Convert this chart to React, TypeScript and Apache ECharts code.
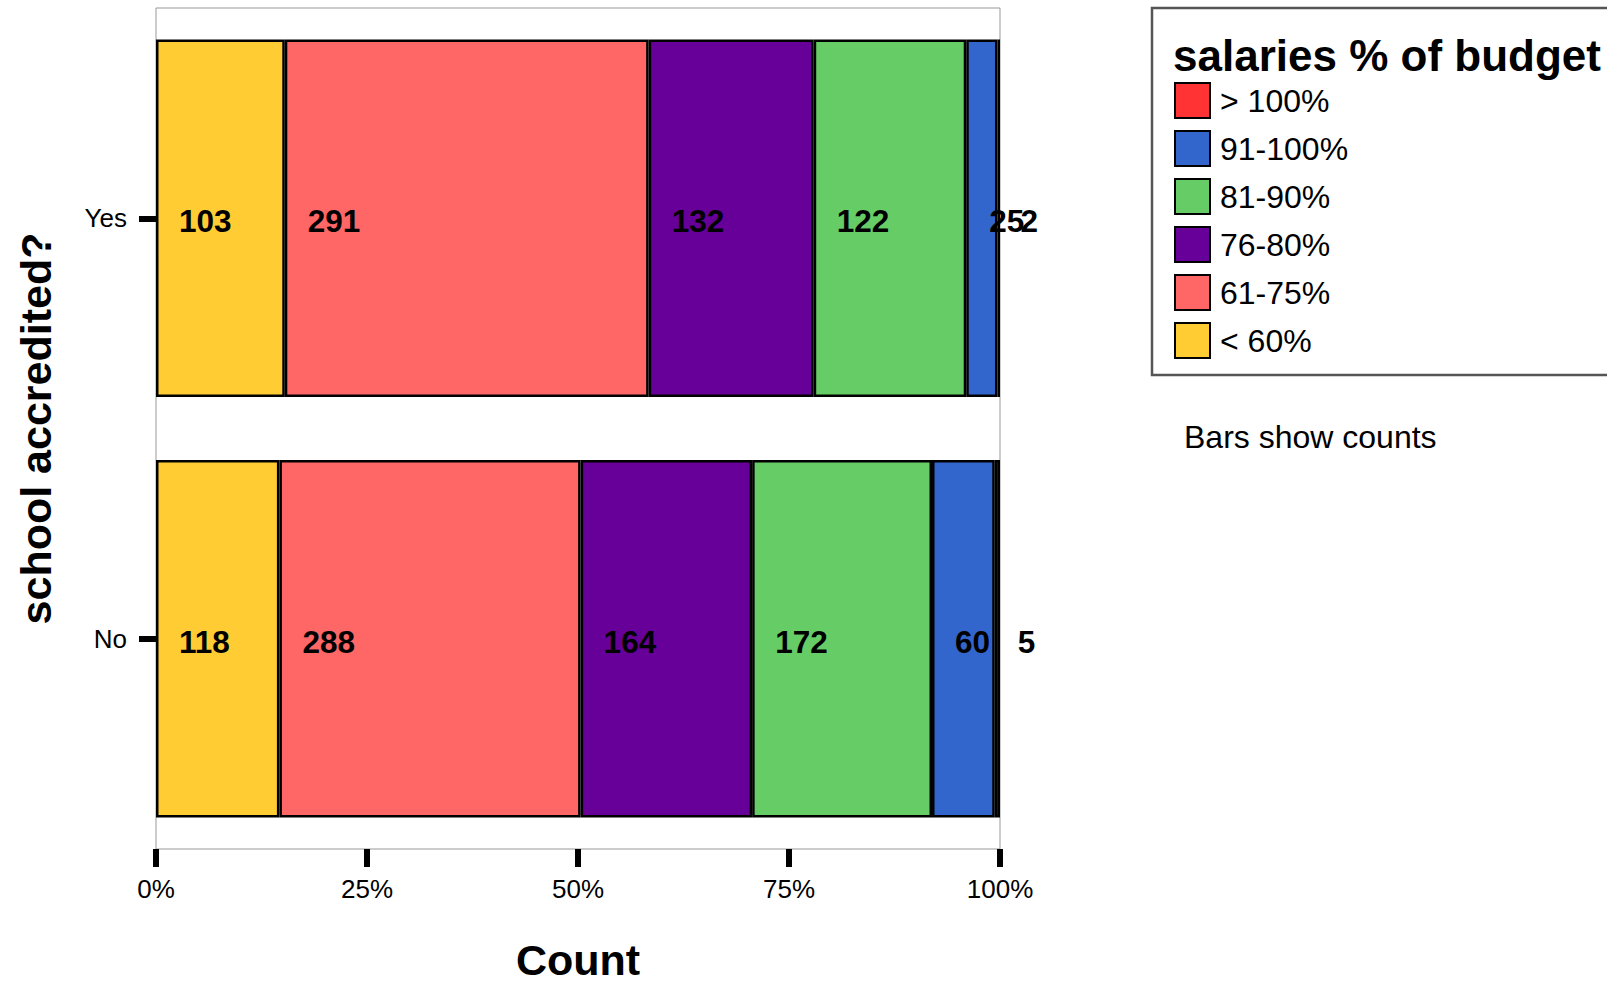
import React, { useEffect, useRef } from "react";
import * as echarts from "echarts";

const categories = ["Yes", "No"];
const seriesNames = ["< 60%", "61-75%", "76-80%", "81-90%", "91-100%", "> 100%"];
const seriesColors = ["#FFCC33", "#FF6666", "#660099", "#66CC66", "#3366CC", "#FF3333"];
// counts per series, [Yes, No]
const countsLt60 = [103, 118];
const counts61to75 = [291, 288];
const counts76to80 = [132, 164];
const counts81to90 = [122, 172];
const counts91to100 = [25, 60];
const countsGt100 = [2, 5];
const xTicks = [0, 25, 50, 75, 100];

const allCounts = [countsLt60, counts61to75, counts76to80, counts81to90, counts91to100, countsGt100];

const FONT = "'Liberation Sans', Arial, Helvetica, sans-serif";

export default function App() {
  const ref = useRef<HTMLDivElement>(null);

  useEffect(() => {
    if (!ref.current) return;
    const chart = echarts.init(ref.current, undefined, { renderer: "svg" });
    const totals = categories.map((_, ci) => allCounts.reduce((s, arr) => s + arr[ci], 0));

    const series = seriesNames.map((name, si) => ({
      name,
      type: "bar",
      stack: "total",
      barWidth: "85%",
      itemStyle: { color: seriesColors[si], borderColor: "#000", borderWidth: 2.5 },
      label: {
        show: true,
        position: "insideLeft",
        distance: 23,
        offset: [0, 3],
        color: "#000",
        fontFamily: FONT,
        fontWeight: "bold",
        fontSize: 31.5,
        formatter: (p: any) => String(allCounts[si][p.dataIndex]),
      },
      data: categories.map((_, ci) => (allCounts[si][ci] / totals[ci]) * 100),
    }));

    chart.setOption({
      animation: false,
      textStyle: { fontFamily: FONT },
      grid: {
        left: 156,
        right: 607,
        top: 8,
        bottom: 128,
        show: true,
        borderColor: "#999",
        borderWidth: 1,
        containLabel: false,
      },
      xAxis: {
        type: "value",
        min: xTicks[0],
        max: xTicks[xTicks.length - 1],
        interval: 25,
        name: "Count",
        nameLocation: "middle",
        nameGap: 89,
        nameTextStyle: { fontFamily: FONT, fontWeight: "bold", fontSize: 43, color: "#000" },
        axisLine: { show: false },
        splitLine: { show: false },
        axisTick: { show: true, length: 18, lineStyle: { color: "#000", width: 6 } },
        axisLabel: {
          margin: 27,
          fontFamily: FONT,
          fontSize: 26,
          color: "#000",
          formatter: (v: number) => `${v}%`,
        },
      },
      yAxis: {
        type: "category",
        data: categories,
        inverse: true,
        name: "school accredited?",
        nameLocation: "middle",
        nameGap: 99,
        nameTextStyle: { fontFamily: FONT, fontWeight: "bold", fontSize: 43, color: "#000" },
        axisLine: { show: false },
        axisTick: { show: true, alignWithLabel: true, length: 17, lineStyle: { color: "#000", width: 6 } },
        axisLabel: { margin: 29, fontFamily: FONT, fontSize: 26, color: "#000" },
      },
      legend: {
        orient: "vertical",
        left: 1174,
        top: 82,
        padding: 0,
        itemWidth: 35,
        itemHeight: 35,
        itemGap: 11,
        icon: "rect",
        data: [...seriesNames].reverse(),
        itemStyle: { borderColor: "#000", borderWidth: 2 },
        textStyle: { fontFamily: FONT, fontSize: 32, color: "#000", padding: [0, 0, 0, 5] },
      },
      graphic: [
        {
          type: "rect",
          shape: { x: 1152, y: 8, width: 500, height: 367 },
          style: { fill: "none", stroke: "#555", lineWidth: 2.5 },
          silent: true,
        },
        {
          type: "text",
          x: 1173,
          y: 55,
          style: {
            text: "salaries % of budget",
            fontFamily: FONT,
            fontWeight: "bold",
            fontSize: 44,
            fill: "#000",
            verticalAlign: "middle",
            align: "left",
          },
        },
        {
          type: "text",
          x: 1184,
          y: 437,
          style: {
            text: "Bars show counts",
            fontFamily: FONT,
            fontSize: 32,
            fill: "#000",
            verticalAlign: "middle",
            align: "left",
          },
        },
      ],
      series,
    });

    return () => chart.dispose();
  }, []);

  return (
    <div
      ref={ref}
      style={{ position: "fixed", left: 0, top: 0, width: 1607, height: 986, background: "#fff" }}
    />
  );
}
